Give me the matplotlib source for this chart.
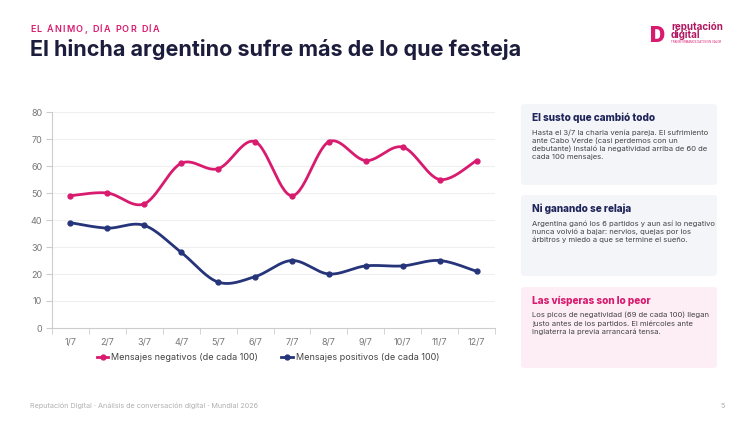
import numpy as np
import matplotlib
matplotlib.use("Agg")
import matplotlib.pyplot as plt
from matplotlib.patches import FancyBboxPatch
from matplotlib.lines import Line2D
from matplotlib.font_manager import FontProperties

plt.rcParams['font.family'] = ['Inter', 'DejaVu Sans']

days = ['1/7', '2/7', '3/7', '4/7', '5/7', '6/7', '7/7', '8/7', '9/7', '10/7', '11/7', '12/7']
negativos = [49, 50, 46, 61, 59, 69, 49, 69, 62, 67, 55, 62]
positivos = [39, 37, 38, 28, 17, 19, 25, 20, 23, 23, 25, 21]

PINK = '#d81b6f'
NAVY = '#26347a'
DARK = '#1c1c3c'

W, H = 750, 422


def smooth(x, y, n=30):
    # Catmull-Rom curve through the points (only for drawing the line)
    x = np.asarray(x, float)
    y = np.asarray(y, float)
    px = np.concatenate([[x[0]], x, [x[-1]]])
    py = np.concatenate([[y[0]], y, [y[-1]]])
    xs, ys = [], []
    t = np.linspace(0, 1, n)
    for i in range(1, len(px) - 2):
        p0, p1, p2, p3 = (np.array([px[j], py[j]]) for j in range(i - 1, i + 3))
        m1 = (p2 - p0) * 0.5
        m2 = (p3 - p1) * 0.5
        h00 = 2 * t**3 - 3 * t**2 + 1
        h10 = t**3 - 2 * t**2 + t
        h01 = -2 * t**3 + 3 * t**2
        h11 = t**3 - t**2
        pts = np.outer(h00, p1) + np.outer(h10, m1) + np.outer(h01, p2) + np.outer(h11, m2)
        xs.extend(pts[:, 0])
        ys.extend(pts[:, 1])
    return xs, ys


def fx(px):
    return px / W


def fy(py):
    return 1 - py / H


fig = plt.figure(figsize=(7.5, 4.22), dpi=100)
fig.patch.set_facecolor('white')

ax = fig.add_axes([fx(52), fy(328), (495 - 52) / W, (328 - 112) / H])
x = np.arange(len(days))
for vals, col in [(negativos, PINK), (positivos, NAVY)]:
    sx, sy = smooth(x, vals)
    ax.plot(sx, sy, color=col, lw=2, solid_capstyle='round', zorder=3)
    ax.plot(x, vals, 'o', color=col, ms=3.5, zorder=4)

ax.set_xlim(-0.5, len(days) - 0.5)
ax.set_ylim(0, 80)
ax.set_yticks(range(0, 81, 10))
ax.set_xticks(x)
ax.set_xticklabels(days)
ax.set_xticks(np.arange(-0.5, len(days), 1), minor=True)
ax.tick_params(axis='x', which='major', length=0, pad=7, labelsize=6.5, labelcolor='#777777')
ax.tick_params(axis='x', which='minor', length=4, color='#cccccc')
ax.tick_params(axis='y', length=4, color='#cccccc', labelsize=6.5, labelcolor='#777777', pad=3)
ax.grid(axis='y', color='#efefef', lw=0.8)
ax.set_axisbelow(True)
for s in ['top', 'right']:
    ax.spines[s].set_visible(False)
for s in ['left', 'bottom']:
    ax.spines[s].set_color('#cccccc')
    ax.spines[s].set_linewidth(0.8)

handles = [Line2D([0], [0], color=PINK, lw=2, marker='o', ms=3.5),
           Line2D([0], [0], color=NAVY, lw=2, marker='o', ms=3.5)]
fig.legend(handles, ['Mensajes negativos (de cada 100)', 'Mensajes positivos (de cada 100)'],
           loc='center', bbox_to_anchor=(fx(268), fy(358)), ncol=2, frameon=False,
           fontsize=6.5, handlelength=1.3, handletextpad=0.3, columnspacing=2.6,
           labelcolor='#444444')

# header (letter-spaced kicker, one glyph at a time)
kicker = 'EL ÁNIMO, DÍA POR DÍA'
renderer = fig.canvas.get_renderer()
kfont = FontProperties(family=['Inter', 'DejaVu Sans'], size=6.5, weight='semibold')
cx = 30
for ch in kicker:
    if ch == ' ':
        cx += 3.5
        continue
    w = renderer.get_text_width_height_descent(ch, kfont, ismath=False)[0]
    fig.text(fx(cx + w / 2), fy(30), ch, color=PINK, fontproperties=kfont,
             va='center', ha='center')
    cx += w + 1.3
fig.text(fx(30), fy(50), 'El hincha argentino sufre más de lo que festeja', color=DARK,
         fontsize=15.5, fontweight='bold', va='center', ha='left')

# logo
fig.text(fx(650), fy(36), 'D', color=PINK, fontsize=15, fontweight='black', va='center', ha='left')
fig.text(fx(671), fy(31), 'reputación\ndigital', color='#b0165f', fontsize=7, fontweight='bold',
         va='center', ha='left', linespacing=0.85)
fig.text(fx(671), fy(42), 'TRANSFORMAMOS DATOS EN VALOR', color=PINK, fontsize=2,
         va='center', ha='left')

# cards
cards = [
    ('El susto que cambió todo',
     'Hasta el 3/7 la charla venía pareja. El sufrimiento\nante Cabo Verde (casi perdemos con un\n'
     'debutante) instaló la negatividad arriba de 60 de\ncada 100 mensajes.',
     104, '#f4f5f9', '#1f2459'),
    ('Ni ganando se relaja',
     'Argentina ganó los 6 partidos y aun así lo negativo\nnunca volvió a bajar: nervios, quejas por los\n'
     'árbitros y miedo a que se termine el sueño.',
     195, '#f4f5f9', '#1f2459'),
    ('Las vísperas son lo peor',
     'Los picos de negatividad (69 de cada 100) llegan\njusto antes de los partidos. El miércoles ante\n'
     'Inglaterra la previa arrancará tensa.',
     287, '#fdeef5', PINK),
]
for title, body, top, bg, tcol in cards:
    fig.patches.append(FancyBboxPatch((fx(521), fy(top + 81)), (717 - 521) / W, 81 / H,
                                      boxstyle='round,pad=0,rounding_size=0.006',
                                      transform=fig.transFigure, facecolor=bg, edgecolor='none',
                                      zorder=0))
    fig.text(fx(532), fy(top + 14), title, color=tcol, fontsize=7.2, fontweight='heavy',
             va='center', ha='left')
    fig.text(fx(532), fy(top + 25), body, color='#444444', fontsize=5.5, va='top', ha='left',
             linespacing=1.35)

# footer
fig.text(fx(30), fy(406), 'Reputación Digital · Análisis de conversación digital · Mundial 2026',
         color='#b0b0b0', fontsize=5.2, va='center', ha='left')
fig.text(fx(725), fy(406), '5', color='#b0b0b0', fontsize=5.2, va='center', ha='right')

fig.savefig('out.png', dpi=100)
